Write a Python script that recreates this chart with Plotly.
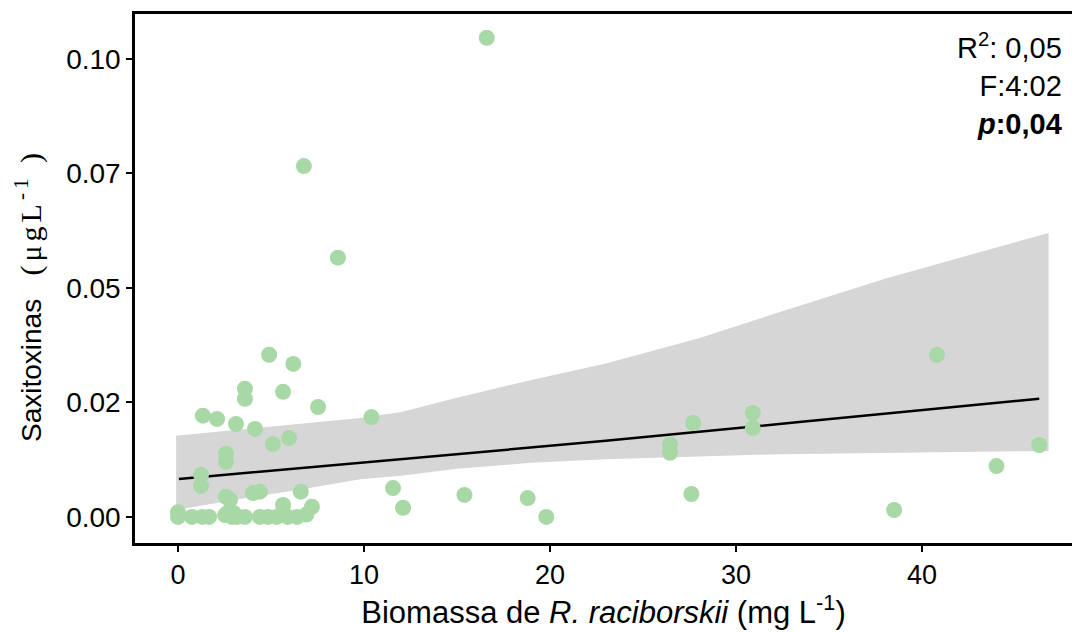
import plotly.graph_objects as go

# Scatter data: biomass (mg/L) vs saxitoxins (ug/L)
biomass = [16.6, 6.77, 8.6, 4.9, 6.2, 3.6, 3.6, 5.65, 7.53, 1.34, 2.1, 3.12, 4.14, 10.4,
           5.1, 5.97, 2.58, 2.58, 1.24, 1.24, 2.58, 2.8, 4.03, 4.4, 6.6, 11.56, 12.1,
           15.4, 18.8, 19.8, 26.45, 26.45, 27.7, 27.6, 30.9, 30.9, 40.8, 38.5, 44.0, 46.3,
           0.0, 0.0, 0.75, 1.3, 1.67, 2.53, 2.7, 3.17, 3.6, 4.4, 4.84, 5.3, 5.65, 5.9,
           6.4, 6.9, 7.2, 2.9, 3.0]
saxitoxins = [0.1046, 0.0766, 0.0566, 0.0354, 0.0334, 0.0280, 0.0258, 0.0273, 0.0240,
              0.0221, 0.0214, 0.0203, 0.0192, 0.0218, 0.0159, 0.0172, 0.0138, 0.0120,
              0.0092, 0.0068, 0.0044, 0.0037, 0.0052, 0.0055, 0.0055, 0.0063, 0.0020,
              0.0048, 0.0041, 0.0000, 0.0158, 0.0140, 0.0205, 0.0050, 0.0227, 0.0194,
              0.0354, 0.0015, 0.0111, 0.0157,
              0.0000, 0.0010, 0.0000, 0.0000, 0.0000, 0.0004, 0.0010, 0.0000, 0.0000,
              0.0000, 0.0000, 0.0000, 0.0026, 0.0000, 0.0000, 0.0005, 0.0022, 0.0000, 0.0008]

# Fitted line
fit_x = [0.05, 12.0, 23.0, 33.4, 46.3]
fit_y = [0.0083, 0.0127, 0.0166, 0.0207, 0.0258]

# Confidence band
band_x = [-0.1, 3.0, 6.6, 9.8, 12.0, 15.0, 19.0, 23.0, 28.0, 32.4, 38.0, 46.8]
band_upper = [0.0177, 0.0189, 0.0203, 0.0216, 0.0229, 0.0260, 0.0299, 0.0335, 0.0390,
              0.0448, 0.0520, 0.0620]
band_lower = [0.0015, 0.0037, 0.0060, 0.0082, 0.0090, 0.0105, 0.0118, 0.0126, 0.0132,
              0.0137, 0.0140, 0.0144]

y_tickvals = [0.0, 0.025, 0.05, 0.075, 0.10]
y_ticktext = ["0.00", "0.02", "0.05", "0.07", "0.10"]
x_tickvals = [0, 10, 20, 30, 40]

FONT = "Liberation Sans, Arial, sans-serif"
SERIF = "Liberation Serif, Times New Roman, serif"
W, H = 1072, 632
ML, MR, MT, MB = 135, 0, 14, 89
PW, PH = W - ML - MR, H - MT - MB


def px_x(p):
    return (p - ML) / PW


def px_y(p):
    return 1 - (p - MT) / PH


fig = go.Figure()
fig.add_trace(go.Scatter(
    x=band_x + band_x[::-1], y=band_upper + band_lower[::-1],
    fill="toself", fillcolor="rgb(214,214,214)", line=dict(width=0),
    mode="lines", hoverinfo="skip", showlegend=False))
fig.add_trace(go.Scatter(
    x=fit_x, y=fit_y, mode="lines", line=dict(color="black", width=2.5),
    showlegend=False))
fig.add_trace(go.Scatter(
    x=biomass, y=saxitoxins, mode="markers",
    marker=dict(size=16, color="rgb(168,216,166)", line=dict(width=0)),
    showlegend=False))

# statistics box
fig.add_annotation(
    x=px_x(1064), y=px_y(26), xref="paper", yref="paper", showarrow=False,
    text="R<sup>2</sup>: 0,05<br>F:4:02<br><b><i>p</i>:0,04</b>",
    align="right", xanchor="right", yanchor="top",
    font=dict(family=FONT, size=29, color="black"))

# y-axis title (rotated)
fig.add_annotation(
    x=px_x(28), y=px_y(296), xref="paper", yref="paper", showarrow=False,
    textangle=-90, xanchor="center", yanchor="middle",
    text=("Saxitoxinas\u00a0\u00a0\u00a0"
          f"<span style='font-family:{SERIF};font-size:30px;letter-spacing:4px'>"
          "(μgL<sup>-1</sup>\u00a0)</span>"),
    font=dict(family=FONT, size=28, color="black"))

fig.update_layout(
    width=W, height=H,
    margin=dict(l=ML, r=MR, t=MT, b=MB, autoexpand=False),
    paper_bgcolor="white", plot_bgcolor="white",
    font=dict(family=FONT, size=28, color="black"),
    xaxis=dict(
        range=[-2.31, 48.06], tickvals=x_tickvals, ticks="outside", ticklen=6,
        tickwidth=1.5, tickcolor="black", showline=True, linecolor="black",
        linewidth=2.5, mirror=True, showgrid=False, zeroline=False,
        tickfont=dict(family=FONT, size=27),
        title=dict(text="Biomassa de <i>R. raciborskii</i> (mg L<sup>-1</sup>)",
                   font=dict(family=FONT, size=31), standoff=10)),
    yaxis=dict(
        range=[-0.0057, 0.1098], tickvals=y_tickvals, ticktext=y_ticktext,
        ticks="outside", ticklen=6, tickwidth=1.5, tickcolor="black",
        showline=True, linecolor="black", linewidth=2.5, showgrid=False,
        zeroline=False, tickfont=dict(family=FONT, size=28)),
)

fig.write_html("out.html", config={"displayModeBar": False},
               post_script="document.body.style.margin='0';")
